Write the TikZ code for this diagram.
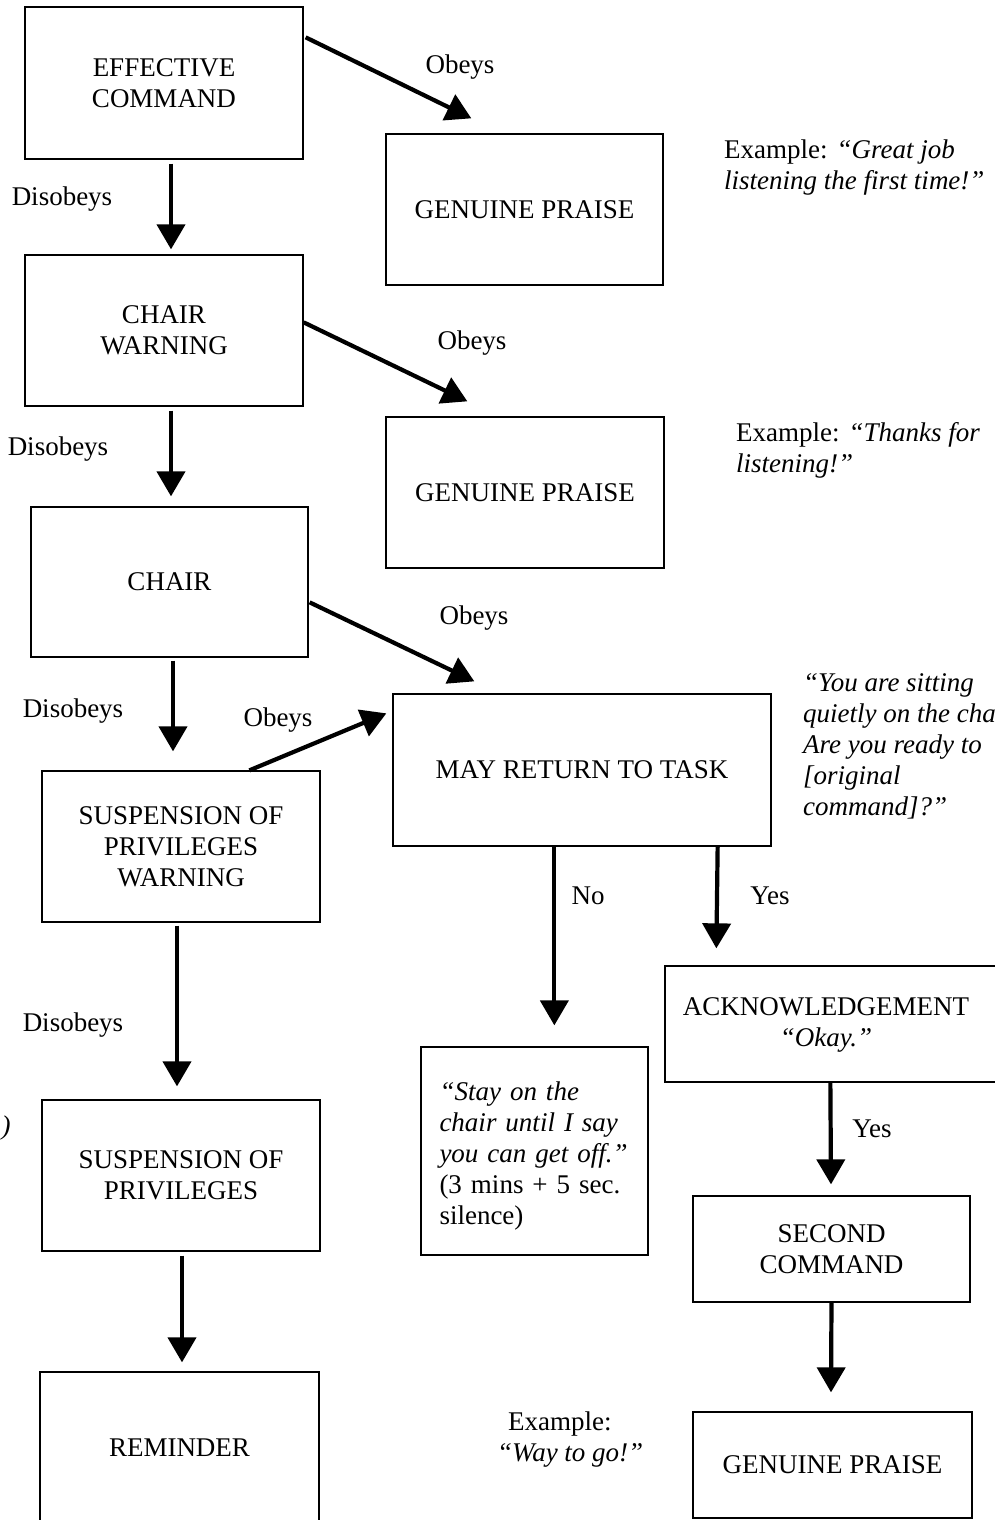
\documentclass[tikz,border=0pt]{standalone}
\usepackage{fontspec}
\setmainfont{Liberation Serif}
\usetikzlibrary{arrows.meta}
\begin{document}
\begin{tikzpicture}[x=1pt,y=-1pt,
  txt/.style={font=\fontsize{27}{31}\selectfont, inner sep=0pt},
  box/.style={txt, draw, line width=1.3pt, align=center},
  arr/.style={line width=4.2pt, -{Triangle[width=28pt,length=25pt]}},
  note/.style={txt, align=left, anchor=north west},
  ]
\useasboundingbox (0,0) rectangle (994,1520);

% boxes
\node[box, minimum width=278, minimum height=152] (ec) at (164,83) {EFFECTIVE\\COMMAND};
\node[box, minimum width=277, minimum height=151] (gp1) at (524.5,209.5) {GENUINE PRAISE};
\node[box, minimum width=278, minimum height=151] (cw) at (164,330.5) {CHAIR\\WARNING};
\node[box, minimum width=278, minimum height=151] (gp2) at (525,492.5) {GENUINE PRAISE};
\node[box, minimum width=277, minimum height=150] (ch) at (169.5,582) {CHAIR};
\node[box, minimum width=378, minimum height=152] (mrt) at (582,770) {MAY RETURN TO TASK};
\node[box, minimum width=278, minimum height=151] (spw) at (181,846.5) {SUSPENSION OF\\PRIVILEGES\\WARNING};
\node[box, minimum width=278, minimum height=151] (sp) at (181,1175.5) {SUSPENSION OF\\PRIVILEGES};
\node[box, minimum width=279, minimum height=152] (rem) at (179.5,1448) {REMINDER};
\node[box, align=left, text width=190, inner xsep=18.5pt, minimum height=208] (stay) at (534.5,1151)
  {\rule{0pt}{28pt}\textit{“Stay on the}\\\textit{chair until I say}\\\textit{you can get off.”}\\(3 mins + 5 sec.\\silence)};
\node[box, minimum width=335, minimum height=116] (ack) at (832.5,1024) {};
\node[txt, align=center] (acktxt) at (826,1025) {ACKNOWLEDGEMENT\\\textit{“Okay.”}};
\node[box, minimum width=277, minimum height=106] (sc) at (831.5,1249) {SECOND\\COMMAND};
\node[box, minimum width=279, minimum height=106] (gp3) at (832.5,1465) {GENUINE PRAISE};

% connectors
\draw[arr] ([shift={(2,31)}]ec.north east) -- ([shift={(86,-15)}]gp1.north west);
\draw[arr] ([shift={(7,4)}]ec.south) -- ([shift={(7,-5)}]cw.north);
\draw[arr] ([shift={(0,68)}]cw.north east) -- ([shift={(82,-15)}]gp2.north west);
\draw[arr] ([shift={(7,4)}]cw.south) -- ([shift={(1.5,-10)}]ch.north);
\draw[arr] ([shift={(1,96)}]ch.north east) -- ([shift={(82,-12)}]mrt.north west);
\draw[arr] ([shift={(3.5,3)}]ch.south) -- ([shift={(-8,-19)}]spw.north);
\draw[arr] ([shift={(208,0)}]spw.north west) -- ([shift={(-6,20)}]mrt.north west);
\draw[arr] ([shift={(-4,3)}]spw.south) -- ([shift={(-4,-13)}]sp.north);
\draw[arr] ([shift={(1,4)}]sp.south) -- ([shift={(2.5,-9)}]rem.north);
\draw[arr] ([shift={(162,0)}]mrt.south west) -- ([shift={(134,-21)}]stay.north west);
\draw[arr] ([shift={(-54,0)}]mrt.south east) -- ([shift={(52,-17)}]ack.north west);
\draw[arr] ([shift={(166,0)}]ack.south west) -- ([shift={(-0.5,-11)}]sc.north);
\draw[arr] (sc.south) -- ([shift={(-1.5,-19)}]gp3.north);

% connector labels
\node[txt] (l1) at (460,67) {Obeys};
\node[txt] (l2) at (62,199) {Disobeys};
\node[txt] (l3) at (472,343) {Obeys};
\node[txt] (l4) at (58,449) {Disobeys};
\node[txt] (l5) at (474,618) {Obeys};
\node[txt] (l6) at (73,711) {Disobeys};
\node[txt] (l7) at (278,720) {Obeys};
\node[txt] (l8) at (73,1025) {Disobeys};
\node[txt] (l9) at (588,896) {No};
\node[txt] (l10) at (770,896) {Yes};
\node[txt] (l11) at (872,1129) {Yes};

% notes
\node[note] (n1) at (724,140) {Example: \textit{“Great job}\\\textit{listening the first time!”}};
\node[note] (n2) at (736,422) {Example: \textit{“Thanks for}\\\textit{listening!”}};
\node[note] (n3) at (803,673) {\textit{“You are sitting}\\\textit{quietly on the chair.}\\\textit{Are you ready to}\\\textit{[original}\\\textit{command]?”}};
\node[note] (n4) at (497,1412) {\hspace*{11pt}Example:\\\textit{“Way to go!”}};
\node[txt] (n5) at (6,1128) {\textit{)}};
\end{tikzpicture}
\end{document}
